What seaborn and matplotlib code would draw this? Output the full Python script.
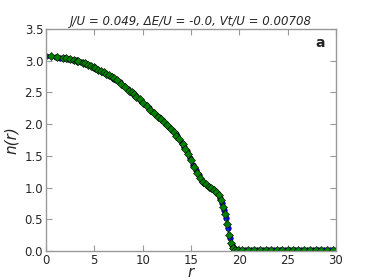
import matplotlib
matplotlib.use("Agg")
import matplotlib.pyplot as plt
import seaborn as sns
import pandas as pd

# radial density profile
r_blue = [0.0, 1.0, 1.41, 2.0, 2.24, 2.83, 3.0, 3.16, 3.61, 4.0, 4.12, 4.47,
          5.0, 5.39, 5.83, 6.08, 6.40, 6.71, 7.07, 7.28, 7.62, 8.06, 8.49,
          8.94, 9.22, 9.49, 9.85, 10.30, 10.63, 11.05, 11.40, 11.70, 12.04,
          12.37, 12.73, 13.04, 13.42, 13.60, 14.04, 14.32, 14.56, 14.87,
          15.23, 15.52, 15.81, 16.12, 16.40, 16.76, 17.03, 17.26, 17.49,
          17.72, 18.03, 18.25, 18.44, 18.60, 18.79, 19.00, 19.21, 19.42,
          19.65, 20.00, 20.62, 21.21, 21.84, 22.47, 23.02, 23.60, 24.19,
          24.70, 25.30, 25.81, 26.42, 27.00, 27.59, 28.18, 28.79, 29.41, 29.97]
n_blue = [3.07, 3.06, 3.05, 3.04, 3.03, 3.02, 3.01, 3.00, 2.98, 2.96, 2.95, 2.93,
          2.89, 2.86, 2.83, 2.81, 2.78, 2.76, 2.72, 2.70, 2.66, 2.61, 2.55,
          2.49, 2.45, 2.41, 2.36, 2.30, 2.25, 2.19, 2.14, 2.11, 2.06,
          2.01, 1.96, 1.91, 1.84, 1.81, 1.71, 1.64, 1.57, 1.47,
          1.36, 1.27, 1.19, 1.11, 1.07, 1.03, 1.00, 0.98, 0.95,
          0.91, 0.83, 0.75, 0.64, 0.52, 0.36, 0.20, 0.09, 0.04,
          0.02, 0.01, 0.01, 0.01, 0.01, 0.01, 0.01, 0.01, 0.01,
          0.01, 0.01, 0.01, 0.01, 0.01, 0.01, 0.01, 0.01, 0.01, 0.01]

r_green = [0.5, 1.12, 1.80, 2.12, 2.50, 2.92, 3.20, 3.35, 3.81, 4.03, 4.30, 4.61,
           4.92, 5.10, 5.41, 5.70, 5.96, 6.26, 6.52, 6.80, 7.00, 7.38, 7.81,
           8.20, 8.60, 8.85, 9.10, 9.35, 9.70, 10.05, 10.44, 10.80, 11.18,
           11.55, 11.88, 12.20, 12.55, 12.90, 13.20, 13.50, 13.80, 14.16,
           14.43, 14.70, 15.03, 15.36, 15.65, 15.95, 16.25, 16.55, 16.88,
           17.12, 17.38, 17.60, 17.88, 18.14, 18.35, 18.52, 18.70, 18.90,
           19.10, 19.32, 19.55, 19.85, 20.30, 20.90, 21.50, 22.10, 22.75,
           23.30, 23.90, 24.45, 25.00, 25.55, 26.10, 26.70, 27.30, 27.90,
           28.50, 29.10, 29.70]
n_green = [3.07, 3.06, 3.05, 3.04, 3.03, 3.01, 3.00, 2.99, 2.97, 2.96, 2.94, 2.92,
           2.90, 2.88, 2.86, 2.84, 2.82, 2.79, 2.77, 2.74, 2.73, 2.69, 2.64,
           2.59, 2.53, 2.50, 2.47, 2.43, 2.39, 2.34, 2.28, 2.23, 2.17,
           2.12, 2.08, 2.04, 1.99, 1.93, 1.88, 1.82, 1.76, 1.68,
           1.61, 1.53, 1.43, 1.32, 1.23, 1.15, 1.09, 1.05, 1.01,
           0.99, 0.96, 0.93, 0.88, 0.80, 0.70, 0.58, 0.43, 0.25,
           0.12, 0.05, 0.02, 0.01, 0.01, 0.01, 0.01, 0.01, 0.01,
           0.01, 0.01, 0.01, 0.01, 0.01, 0.01, 0.01, 0.01, 0.01,
           0.01, 0.01, 0.01]

title = "J/U = 0.049, \u0394E/U = -0.0, Vt/U = 0.00708"

sns.set_style("ticks")
plt.rcParams['font.family'] = ['DejaVu Sans']

blue = pd.DataFrame({'r': r_blue, 'n': n_blue})
green = pd.DataFrame({'r': r_green, 'n': n_green})

fig = plt.figure(figsize=(3.74, 2.8), dpi=100)
ax = fig.add_axes([0.123, 0.104, 0.775, 0.792])

sns.lineplot(data=blue, x='r', y='n', ax=ax, color='#0000ff', lw=0.8,
             marker='o', markersize=4, markeredgecolor='k', markeredgewidth=0.4)
sns.lineplot(data=green, x='r', y='n', ax=ax, color='#008000', lw=0.8,
             marker='D', markersize=3.6, markeredgecolor='k', markeredgewidth=0.4)

ax.set_xlim(0, 30)
ax.set_ylim(0, 3.5)
ax.set_xticks([0, 5, 10, 15, 20, 25, 30])
ax.set_yticks([0.0, 0.5, 1.0, 1.5, 2.0, 2.5, 3.0, 3.5])
ax.set_yticklabels(['0.0', '0.5', '1.0', '1.5', '2.0', '2.5', '3.0', '3.5'])
ax.tick_params(direction='in', top=True, right=True, length=4, width=0.8,
               color='#999999', labelsize=8.5, pad=2)
for s in ax.spines.values():
    s.set_color('#999999')
    s.set_linewidth(1.0)

ax.set_title(title, fontsize=8.5, style='italic', pad=3)
ax.set_xlabel('r', fontsize=11, style='italic', labelpad=-1)
ax.set_ylabel('n(r)', fontsize=11, style='italic', labelpad=4)
ax.text(0.962, 0.937, 'a', transform=ax.transAxes, fontsize=10,
        fontweight='bold', ha='right', va='center')

fig.savefig('out.png', dpi=100)
